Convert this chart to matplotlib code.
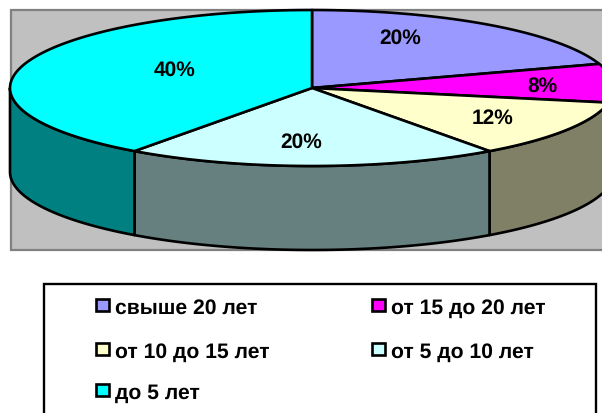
import numpy as np
import matplotlib
matplotlib.use("Agg")
import matplotlib.pyplot as plt
from matplotlib.patches import Polygon, Rectangle

plt.rcParams["font.family"] = ["Liberation Sans", "DejaVu Sans"]
plt.rcParams["text.hinting"] = "none"

categories = ["свыше 20 лет", "от 15 до 20 лет", "от 10 до 15 лет", "от 5 до 10 лет", "до 5 лет"]
shares = [20, 8, 12, 20, 40]
top_colors = ["#9999FF", "#FF00FF", "#FFFFCC", "#CCFFFF", "#00FFFF"]
side_colors = ["#4D4D80", "#800080", "#808066", "#668080", "#008080"]

# pie geometry in pixels
cx, cy = 312, 89
rx, ry = 302, 78
depth = 84
lw = 1.9


def rim(a0, a1, dy=0):
    # angles are clockwise from the top, in degrees
    t = np.radians(np.linspace(a0, a1, 120))
    return np.column_stack([cx + rx * np.sin(t), cy + dy - ry * np.cos(t)])


fig = plt.figure(figsize=(6.02, 4.14), dpi=100)
ax = fig.add_axes([0, 0, 1, 1])
ax.set_xlim(0, 602)
ax.set_ylim(414, 0)
ax.axis("off")

# plot area background
ax.add_patch(Rectangle((10.5, 10.5), 600, 240, facecolor="#C0C0C0", edgecolor="#808080", lw=1.6))

edges = np.cumsum([0] + shares) / sum(shares) * 360

# side walls, only the part of the rim facing the viewer
for i in range(len(shares)):
    a0 = max(edges[i], 90)
    a1 = min(edges[i + 1], 270)
    if a1 <= a0:
        continue
    pts = np.vstack([rim(a0, a1), rim(a0, a1, depth)[::-1]])
    ax.add_patch(Polygon(pts, closed=True, facecolor=side_colors[i], edgecolor="black", lw=lw, joinstyle="round"))

# top slices
for i in range(len(shares)):
    pts = np.vstack([[cx, cy], rim(edges[i], edges[i + 1])])
    ax.add_patch(Polygon(pts, closed=True, facecolor=top_colors[i], edgecolor="black", lw=lw, joinstyle="round"))

# percent labels
label_x = [400, 542, 493, 301, 175]
label_y = [38, 86, 118, 142, 70]
for i in range(len(shares)):
    ax.text(label_x[i], label_y[i], f"{shares[i]}%", ha="center", va="center", fontsize=15, fontweight="bold", color="black")

# legend box, its lower edge is cut off by the image
ax.add_patch(Rectangle((44, 285), 552, 150, facecolor="white", edgecolor="black", lw=1.7))
key_x = [96.3, 372.3, 96.3, 372.3, 96.3]
key_y = [306, 306, 350, 350, 391]
for i in range(len(categories)):
    ax.add_patch(Rectangle((key_x[i], key_y[i] - 6), 12.5, 12, facecolor=top_colors[i], edgecolor="black", lw=1.9))
    ax.text(key_x[i] + 18.5, key_y[i] + 2, categories[i], ha="left", va="center", fontsize=15.2, fontweight="bold", color="black")

fig.savefig("out.png", dpi=100)
